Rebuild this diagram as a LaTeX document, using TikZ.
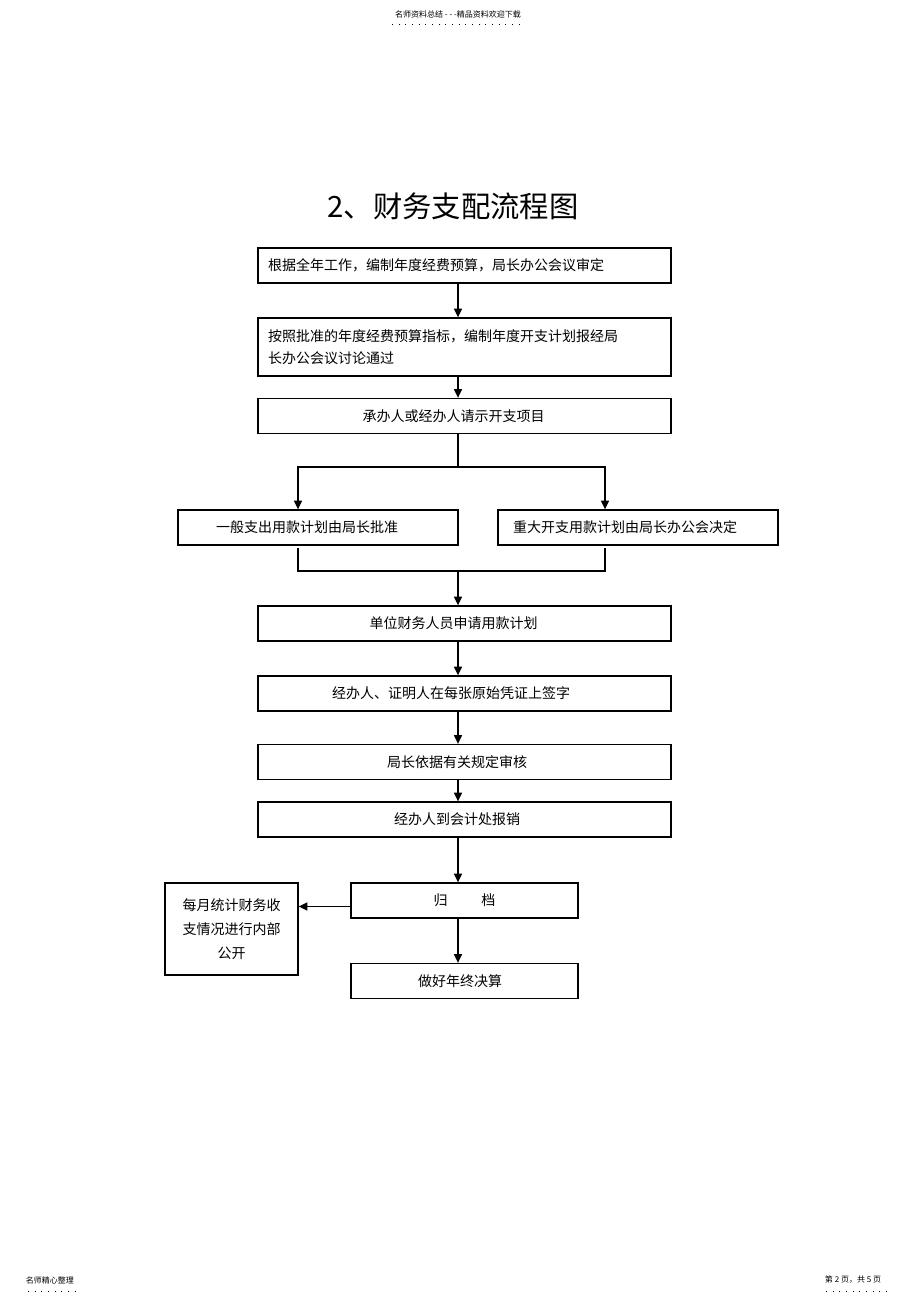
\documentclass[tikz,border=0pt]{standalone}
\usepackage{fontspec}
\newfontfamily\cjk{Noto Sans CJK SC}
\usetikzlibrary{arrows.meta, calc}

\tikzset{
    box/.style={draw, line width=1pt, minimum width=309.75pt, minimum height=26.25pt,
        inner sep=0pt, font=\cjk\fontsize{10.5pt}{16.5pt}\selectfont},
    lbox/.style={box, text width=294.75pt, align=left},
    cbox/.style={box, execute at begin node={\hspace*{-#1}}},
    cbox/.default=16.5pt,
    arr/.style={-{Triangle[length=6.5pt, width=6pt]}, line width=1pt},
    ln/.style={line width=1pt},
    dots/.style={line width=0.6pt, dash pattern=on 0.6pt off 4.4pt},
    tiny/.style={font=\cjk\fontsize{6pt}{7pt}\selectfont, inner sep=0pt},
}

\begin{document}
\begin{tikzpicture}[x=0.75pt, y=-0.75pt]
    \useasboundingbox (0,0) rectangle (920,1303);

    % header and footer
    \node[tiny] (hd) at (458,14) {名师资料总结 - - -精品资料欢迎下载};
    \draw[dots] (392,24) -- (525,24);
    \node[tiny] (ftl) at (50,1280) {名师精心整理};
    \draw[dots] (28,1291) -- (76,1291);
    \node[tiny] (ftr) at (853,1280) {第 2 页，共 5 页};
    \draw[dots] (826,1291) -- (890,1291);

    \node[font=\cjk\fontsize{22pt}{26pt}\selectfont] (title) at (453,206) {2、财务支配流程图};

    \coordinate (main) at (458,0);
    \coordinate (sl) at (298,467);
    \coordinate (sr) at (605,467);
    \coordinate (ml) at (298,571);
    \coordinate (mr) at (605,571);

    \node[lbox] (b1) at (464.5,265.5) {根据全年工作，编制年度经费预算，局长办公会议审定};
    \node[lbox, minimum height=43.5pt] (b2) at (464.5,347)
        {按照批准的年度经费预算指标，编制年度开支计划报经局\\长办公会议讨论通过};
    \node[cbox] (b3) at (464.5,416) {承办人或经办人请示开支项目};
    \node[cbox, minimum width=210pt] (b4) at (318,527.5) {一般支出用款计划由局长批准};
    \node[cbox=19.5pt, minimum width=210pt] (b5) at (638,527.5) {重大开支用款计划由局长办公会决定};
    \node[cbox] (b6) at (464.5,623.5) {单位财务人员申请用款计划};
    \node[cbox=20pt] (b7) at (464.5,693.5) {经办人、证明人在每张原始凭证上签字};
    \node[cbox=11pt] (b8) at (464.5,762) {局长依据有关规定审核};
    \node[cbox=11pt] (b9) at (464.5,819.5) {经办人到会计处报销};
    \node[box, minimum width=170.25pt] (b10) at (464.5,900.5) {归\hspace{2.4em}档};
    \node[cbox=6.75pt, minimum width=170.25pt] (b11) at (464.5,981) {做好年终决算};
    \node[box, minimum width=99.75pt, minimum height=69pt, align=center,
        font=\cjk\fontsize{10.5pt}{18pt}\selectfont] (b12) at (231.5,929)
        {每月统计财务收\\支情况进行内部\\公开};

    \draw[arr] (b1.south -| main) -- (b2.north -| main);
    \draw[arr] (b2.south -| main) -- (b3.north -| main);

    \draw[ln] (b3.south -| main) -- (main |- sl);
    \draw[arr] (main |- sl) -- (sl) -- (sl |- b4.north);
    \draw[arr] (main |- sl) -- (sr) -- (sr |- b5.north);

    \draw[ln] ([yshift=-2pt]b4.south -| ml) -- (ml) -- (mr) -- ([yshift=-2pt]b5.south -| mr);
    \draw[arr] (main |- ml) -- (b6.north -| main);

    \draw[arr] (b6.south -| main) -- (b7.north -| main);
    \draw[arr] (b7.south -| main) -- (b8.north -| main);
    \draw[arr] (b8.south -| main) -- (b9.north -| main);
    \draw[arr] (b9.south -| main) -- (b10.north -| main);
    \draw[arr] (b10.south -| main) -- (b11.north -| main);
    \draw[arr] ([yshift=-4.5pt]b10.west) -- ([yshift=-4.5pt]b10.west -| b12.east);
\end{tikzpicture}
\end{document}
